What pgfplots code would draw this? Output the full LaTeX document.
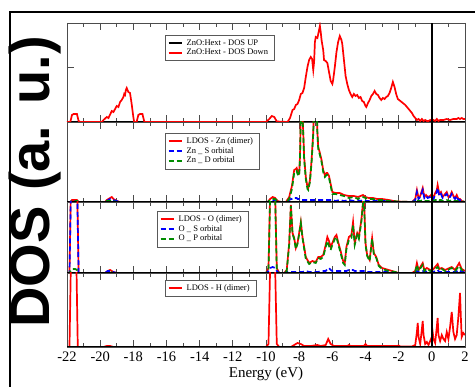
\documentclass[border=0pt]{standalone}
\usepackage{fontspec}
\setmainfont{Liberation Serif}
\newfontfamily\lsans{Liberation Sans}
\usepackage{pgfplots}
\usepackage{pgfplotstable}
\pgfplotsset{compat=1.18}

\pgfplotstableread{
E tot
-22.0 0
-21.8 0
-21.7 7
-21.6 8
-21.4 8
-21.3 1
-21.2 0
-19.9 0
-19.8 2
-19.6 5
-19.5 4
-19.3 11
-19.2 10
-19.0 16
-18.9 15
-18.8 20
-18.7 22
-18.6 25
-18.55 28
-18.5 27
-18.45 32
-18.4 34
-18.3 30
-18.2 29
-18.1 18
-18.0 5
-17.95 0
-17.8 0
-17.7 7
-17.6 8
-17.45 8
-17.35 1
-17.3 0
-10.0 0
-9.8 3
-9.65 6
-9.5 5
-9.35 0.5
-8.7 0
-8.55 4
-8.4 12
-8.3 13
-8.2 17
-8.1 18
-8.0 22
-7.9 28
-7.8 29
-7.7 34
-7.6 45
-7.5 55
-7.4 62
-7.3 65
-7.22 63
-7.15 52
-7.1 60
-7.05 80
-7.0 85
-6.9 84
-6.85 88
-6.75 96
-6.7 90
-6.65 82
-6.55 72
-6.5 62
-6.4 61
-6.3 59
-6.2 50
-6.1 41
-6.0 38
-5.95 42
-5.85 55
-5.75 70
-5.65 80
-5.55 86
-5.45 82
-5.4 78
-5.3 62
-5.2 46
-5.1 38
-5.0 32
-4.9 28
-4.8 25
-4.7 28
-4.6 26
-4.5 27
-4.4 24
-4.3 25
-4.2 21
-4.1 20
-4.0 16
-3.95 15
-3.85 19
-3.75 22
-3.65 26
-3.55 28
-3.45 31
-3.35 28
-3.25 27
-3.15 24
-3.05 22
-2.95 24
-2.85 23
-2.75 25
-2.65 26
-2.55 29
-2.45 34
-2.35 40
-2.25 35
-2.15 28
-2.05 23
-1.9 21
-1.75 19
-1.6 17
-1.45 14
-1.35 12
-1.2 9
-1.1 6
-1.0 4
-0.9 2
-0.8 3
-0.7 1
-0.6 3
-0.5 1
-0.4 2
-0.3 1
-0.2 1
-0.1 2
0.0 1
0.1 2
0.2 1
0.3 3
0.4 1
0.5 2
0.7 2
0.9 3
1.1 2
1.3 3
1.5 3
1.6 4
1.7 3
1.8 4
1.9 3
2.0 3
}\dostable

\pgfplotstableread{
E tot s d
-22.0 0 0 0
-21.8 0 0 0
-21.7 2 1 1
-21.4 2 1 1
-21.3 0 0 0
-19.7 0 0 0
-19.6 2 1 1
-19.4 4 3 1
-19.3 5 3 2
-19.2 3 2 1
-19.0 1 1 0
-18.8 0 0 0
-9.9 0 0 0
-9.75 3 1 2
-9.6 5 2 3
-9.45 4 1 3
-9.3 1 0 1
-9.1 0 0 0
-8.8 0 0 0
-8.6 5 2 3
-8.5 12 3 9
-8.45 15 3 12
-8.4 20 4 17
-8.3 32 4 29
-8.2 33 4 30
-8.15 34 4 31
-8.1 31 3 28
-8.0 29 3 26
-7.95 45 2 43
-7.9 90 2 88
-7.85 120 2 118
-7.8 90 2 88
-7.7 45 2 43
-7.6 25 2 23
-7.5 15 2 13
-7.45 14 2 12
-7.35 22 2 20
-7.25 42 2 40
-7.15 70 2 68
-7.1 100 2 98
-7.0 130 2 128
-6.95 100 2 98
-6.9 70 2 68
-6.85 55 2 53
-6.75 49 2 47
-6.65 42 2 40
-6.55 32 2 30
-6.45 27 2 25
-6.35 29 2 27
-6.3 29 2 27
-6.2 26 2 24
-6.1 18 2 16
-6.0 10 2 8
-5.8 9 1 8
-5.55 9 2 7
-5.3 7 1 6
-5.0 6 2 4
-4.7 6 1 5
-4.45 5 2 3
-4.3 6 1 5
-4.15 7 2 5
-4.0 5 1 4
-3.8 4 1 3
-3.55 4 1 3
-3.3 3 1 2
-3.0 3 1 2
-2.6 2 1 1
-2.3 1 0 1
-2.1 0.5 0 0.5
-1.2 0 0 0
-1.0 3 2 1
-0.9 12 10 2
-0.8 4 3 1
-0.7 6 5 1
-0.55 14 12 2
-0.45 5 4 1
-0.35 7 6 1
-0.25 5 4 1
-0.1 6 5 1
0.0 8 6 2
0.1 4 3 1
0.2 9 7 2
0.3 12 10 2
0.35 17 14 3
0.45 8 6 2
0.55 10 8 2
0.65 5 4 1
0.75 7 6 1
0.9 10 8 2
1.0 5 4 1
1.1 6 5 1
1.2 10 8 2
1.3 6 5 1
1.4 4 3 1
1.5 7 6 1
1.6 3 2 1
1.7 3 2 1
1.8 1 1 0
1.9 0.5 0 0.5
2.0 0 0 0
}\zntable

\pgfplotstableread{
E tot s p
-22.0 0 0 0
-21.85 0 0 0
-21.75 100 95 3
-21.65 150 140 4
-21.5 150 140 4
-21.4 100 95 3
-21.3 0 0 0
-19.7 0 0 0
-19.55 2 2 0
-19.4 3 2 1
-19.2 1 1 0
-19.0 0 0 0
-10.0 0 0 0
-9.85 5 2 3
-9.75 80 5 75
-9.6 120 6 114
-9.45 80 5 75
-9.35 5 2 3
-9.2 0 0 0
-8.9 0 0 0
-8.75 3 1 2
-8.6 30 1 29
-8.5 68 1 67
-8.4 40 1 39
-8.3 35 1 34
-8.2 25 1 24
-8.1 30 1 29
-8.0 40 1 39
-7.9 51 1 50
-7.8 36 1 35
-7.6 16 2 14
-7.4 10 1 9
-7.2 12 1 11
-7.0 11 1 10
-6.85 16 1 15
-6.7 16 2 14
-6.55 18 2 16
-6.4 28 2 26
-6.3 36 4 32
-6.2 32 5 27
-6.1 26 3 23
-6.0 30 2 28
-5.85 36 2 34
-5.75 38 2 36
-5.65 31 2 29
-5.5 22 2 20
-5.35 12 2 10
-5.25 10 2 8
-5.15 26 2 24
-5.0 36 3 33
-4.85 38 3 35
-4.75 51 3 48
-4.65 30 2 28
-4.5 40 2 38
-4.4 36 2 34
-4.25 53 2 51
-4.15 71 2 69
-4.1 80 2 78
-4.0 30 2 28
-3.9 18 1 17
-3.75 13 1 12
-3.6 35 1 34
-3.5 20 1 19
-3.35 16 1 15
-3.2 8 1 7
-3.0 5 1 4
-2.6 3 1 2
-2.2 1 0 1
-2.0 0 0 0
-1.2 0 0 0
-1.0 2 1 1
-0.9 10 2 8
-0.8 3 1 2
-0.55 10 2 8
-0.45 3 1 2
-0.3 5 1 4
-0.1 3 1 2
0.1 4 1 3
0.35 9 3 6
0.45 4 1 3
0.6 5 1 4
0.8 3 1 2
1.2 6 1 5
1.4 3 1 2
1.65 10 3 7
1.8 4 1 3
1.9 3 1 2
2.0 2 0 2
}\otable

\pgfplotstableread{
E tot
-22.0 0
-21.85 0
-21.75 100
-21.6 150
-21.45 100
-21.35 0
-19.8 0
-19.6 1
-19.4 1
-19.2 0
-10.0 0
-9.85 3
-9.75 80
-9.6 130
-9.45 80
-9.35 3
-9.2 0
-8.5 0
-8.3 2
-8.1 4
-7.9 3
-7.7 1
-7.3 1
-6.9 2
-6.7 1
-6.4 2
-6.25 8
-6.1 3
-5.9 1
-5.1 1
-5.0 2
-4.9 1
-4.1 1
-4.0 3
-3.9 1
-2.1 1
-2.0 1.5
-1.9 0.5
-1.2 0.5
-1.0 2
-0.9 15
-0.85 24
-0.8 10
-0.7 3
-0.6 18
-0.55 26
-0.5 12
-0.4 3
-0.3 5
-0.2 2
-0.1 6
0.0 10
0.05 15
0.1 8
0.2 4
0.3 20
0.35 29
0.4 12
0.5 6
0.6 12
0.7 8
0.8 6
0.9 15
1.0 8
1.1 20
1.2 35
1.3 15
1.4 8
1.5 12
1.6 30
1.7 54
1.75 30
1.8 10
1.9 14
2.0 12
}\htable

\pgfplotsset{
  panel/.style={
    scale only axis, width=398pt, xmin=-22, xmax=2, ymin=0,
    xtick={-22,-20,...,2}, minor xtick={-21,-19,...,1},
    tick align=inside, xtick pos=both, ytick pos=both,
    major tick length=7pt, minor tick length=4pt,
    axis line style={draw=gray!60!black, line width=0.7pt},
    tick style={draw=gray!60!black, line width=0.7pt},
    ytick=\empty, xticklabels={},
    legend cell align=left,
    legend image code/.code={\draw[#1, line width=2pt] (0pt,0pt) -- (13pt,0pt);},
    legend style={draw=gray!70!black, fill=white,
      font=\fontsize{8.5}{9.5}\selectfont, inner sep=2.5pt, row sep=-1.8pt,
      anchor=north west,
      nodes={inner xsep=4pt}},
  },
  tot/.style={red, line width=1.7pt},
  sorb/.style={blue, line width=1.7pt, dash pattern=on 5pt off 3pt},
  porb/.style={green!55!black, line width=1.7pt, dash pattern=on 5pt off 3pt},
}

\begin{document}
\begin{tikzpicture}[x=1pt,y=1pt]
\useasboundingbox (0,0) rectangle (475,387);
\fill[white] (0,0) rectangle (475,387);
\draw[line width=2.2pt, black] (10,-5) -- (10,375) -- (480,375);

% panel 1: total DOS
\begin{axis}[panel, at={(67pt,265pt)}, height=99pt, ymax=99,
  ytick={55}, yticklabels={},
  legend style={at={(0.246,0.879)}}]
\addplot[black, line width=1.5pt] table[x=E, y expr=0] \dostable;
\addlegendentry{ZnO:Hext - DOS UP}
\addplot[tot] table[x=E, y=tot] \dostable;
\addlegendentry{ZnO:Hext - DOS Down}
\addplot[black, line width=1.4pt, forget plot] coordinates {(0,0) (0,99)};
\end{axis}

% panel 2: Zn
\begin{axis}[panel, at={(67pt,185pt)}, height=80pt, ymax=80,
  legend style={at={(0.246,0.8625)}}]
\addplot[tot] table[x=E, y=tot] \zntable;
\addlegendentry{LDOS - Zn (dimer)}
\addplot[sorb] table[x=E, y=s] \zntable;
\addlegendentry{Zn \_ S orbital}
\addplot[porb] table[x=E, y=d] \zntable;
\addlegendentry{Zn \_ D orbital}
\addplot[black, line width=1.2pt, forget plot] coordinates {(-22,0) (2,0)};
\addplot[black, line width=1.4pt, forget plot] coordinates {(0,0) (0,80)};
\end{axis}

% panel 3: O
\begin{axis}[panel, at={(67pt,114pt)}, height=71pt, ymax=71,
  legend style={at={(0.226,0.873)}}]
\addplot[tot] table[x=E, y=tot] \otable;
\addlegendentry{LDOS - O (dimer)}
\addplot[sorb] table[x=E, y=s] \otable;
\addlegendentry{O \_ S orbital}
\addplot[porb] table[x=E, y=p] \otable;
\addlegendentry{O \_ P orbital}
\addplot[black, line width=1.2pt, forget plot] coordinates {(-22,0) (2,0)};
\addplot[black, line width=1.4pt, forget plot] coordinates {(0,0) (0,71)};
\end{axis}

% panel 4: H
\begin{axis}[panel, at={(67pt,40pt)}, height=74pt, ymax=74,
  xticklabels={-22,-20,-18,-16,-14,-12,-10,-8,-6,-4,-2,0,2},
  xticklabel pos=lower,
  xticklabel style={font=\fontsize{14.5}{16}\selectfont, yshift=-1pt},
  /pgf/number format/assume math mode=true,
  xlabel={Energy (eV)},
  xlabel style={font=\fontsize{15}{17}\selectfont, yshift=1pt},
  legend style={at={(0.246,0.905)}}]
\addplot[tot] table[x=E, y=tot] \htable;
\addlegendentry{LDOS - H (dimer)}
\addplot[black, line width=1.2pt, forget plot] coordinates {(-22,0) (2,0)};
\addplot[black, line width=1.4pt, forget plot] coordinates {(0,0) (0,74)};
\end{axis}

\node[rotate=90, font=\lsans\bfseries\fontsize{56}{60}\selectfont, inner sep=0pt] at (35,205) {DOS (a. u.)};
\end{tikzpicture}
\end{document}
